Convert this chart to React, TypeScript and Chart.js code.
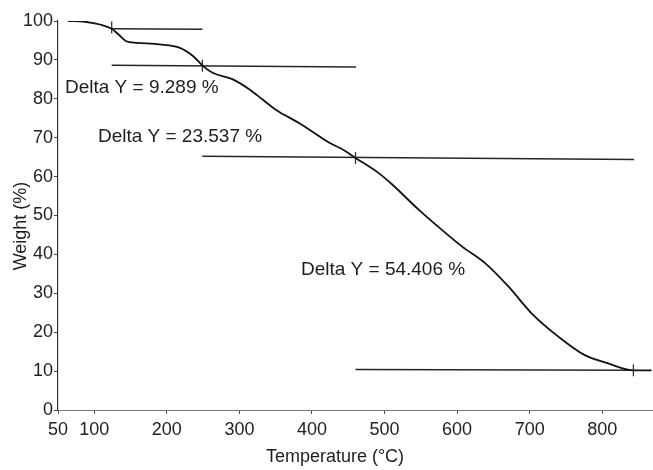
import React, { useEffect, useRef } from "react";
import { Chart, registerables } from "chart.js";

Chart.register(...registerables);

const temperature = [64, 87, 108, 124, 133, 144, 158, 190, 218, 236, 250, 263, 291, 314, 332, 350, 382, 410, 424, 440, 460, 492, 511, 547, 579, 607, 639, 671, 703, 740, 776, 808, 843, 868];
const weight = [100, 99.8, 99.1, 98.0, 96.6, 94.8, 94.4, 94.0, 93.1, 91.0, 88.4, 86.7, 85.0, 82.4, 79.8, 77.2, 73.8, 70.4, 68.7, 67.2, 64.8, 60.9, 57.9, 51.5, 46.3, 42.0, 37.7, 31.7, 24.8, 18.8, 14.1, 12.0, 10.2, 10.2];

const baselineStartX = [124, 124, 249, 460];
const baselineEndX = [249, 461, 844, 844];
const baselineStartY = [98.0, 88.6, 65.2, 10.4];
const baselineEndY = [97.9, 88.2, 64.4, 10.2];

const markerX = [124, 249, 460, 843];
const markerY = [98.3, 88.5, 64.8, 10.2];

const xTicks = [50, 100, 200, 300, 400, 500, 600, 700, 800];
const deltaLabels = ["Delta Y = 9.289 %", "Delta Y = 23.537 %", "Delta Y = 54.406 %"];
const deltaLabelX = [59.6, 105, 384.8];
const deltaLabelY = [82.9, 70.3, 36.0];

const xTitle = "Temperature (°C)";
const yTitle = "Weight (%)";

const FONT = "'Liberation Sans', Arial, Helvetica, sans-serif";

export default function App() {
  const ref = useRef<HTMLCanvasElement>(null);

  useEffect(() => {
    document.body.style.margin = "0";
    const canvas = ref.current!;
    const annotations = {
      id: "annotations",
      afterDatasetsDraw(chart: any) {
        const ctx = chart.ctx;
        const xs = chart.scales.x;
        const ys = chart.scales.y;
        ctx.save();
        ctx.fillStyle = "#1e1e1e";
        ctx.font = `19px ${FONT}`;
        ctx.textAlign = "left";
        ctx.textBaseline = "middle";
        deltaLabels.forEach((t, i) => {
          ctx.fillText(t, xs.getPixelForValue(deltaLabelX[i]), ys.getPixelForValue(deltaLabelY[i]));
        });
        ctx.font = `18px ${FONT}`;
        ctx.textAlign = "center";
        ctx.fillText(xTitle, 335, 457);
        ctx.translate(21, 226);
        ctx.rotate(-Math.PI / 2);
        ctx.fillText(yTitle, 0, 0);
        ctx.restore();
      },
    };

    const baselineSets = baselineStartX.map((sx, i) => ({
      data: [
        { x: sx, y: baselineStartY[i] },
        { x: baselineEndX[i], y: baselineEndY[i] },
      ],
      borderColor: "#262626",
      borderWidth: 1.5,
      pointRadius: 0,
      showLine: true,
    }));

    const chart = new Chart(canvas, {
      type: "scatter",
      data: {
        datasets: [
          {
            data: temperature.map((t, i) => ({ x: t, y: weight[i] })),
            borderColor: "#111",
            borderWidth: 1.8,
            pointRadius: 0,
            showLine: true,
            cubicInterpolationMode: "monotone",
          } as any,
          ...baselineSets,
          {
            data: markerX.map((x, i) => ({ x, y: markerY[i] })),
            pointStyle: "line",
            rotation: 90,
            pointRadius: 6,
            borderColor: "#333",
            borderWidth: 1.3,
            showLine: false,
          } as any,
        ],
      },
      options: {
        animation: false,
        responsive: false,
        devicePixelRatio: 1,
        layout: { autoPadding: false, padding: { top: 21, right: 0, left: 0, bottom: 0 } },
        plugins: { legend: { display: false }, tooltip: { enabled: false } },
        scales: {
          x: {
            type: "linear",
            min: 50,
            max: 870,
            afterBuildTicks: (scale: any) => {
              scale.ticks = xTicks.map((v) => ({ value: v }));
            },
            afterFit: (scale: any) => {
              scale.height = 60;
              scale.paddingRight = 0;
            },
            ticks: {
              color: "#222",
              font: { family: FONT, size: 18 },
              padding: 5,
              maxRotation: 0,
              autoSkip: false,
            },
            grid: { drawOnChartArea: false, drawTicks: true, tickLength: 4, color: "#555" },
            border: { display: true, color: "#777", width: 1 },
          },
          y: {
            type: "linear",
            min: 0,
            max: 100,
            ticks: {
              stepSize: 10,
              color: "#222",
              font: { family: FONT, size: 18 },
              padding: 1,
            },
            afterFit: (scale: any) => {
              scale.width = 58;
            },
            grid: { drawOnChartArea: false, drawTicks: true, tickLength: 4, color: "#444" },
            border: { display: true, color: "#333", width: 1.2 },
          },
        },
      },
      plugins: [annotations],
    });
    return () => chart.destroy();
  }, []);

  return (
    <div style={{ width: 653, height: 470, background: "#fff" }}>
      <canvas ref={ref} width={653} height={470} />
    </div>
  );
}
